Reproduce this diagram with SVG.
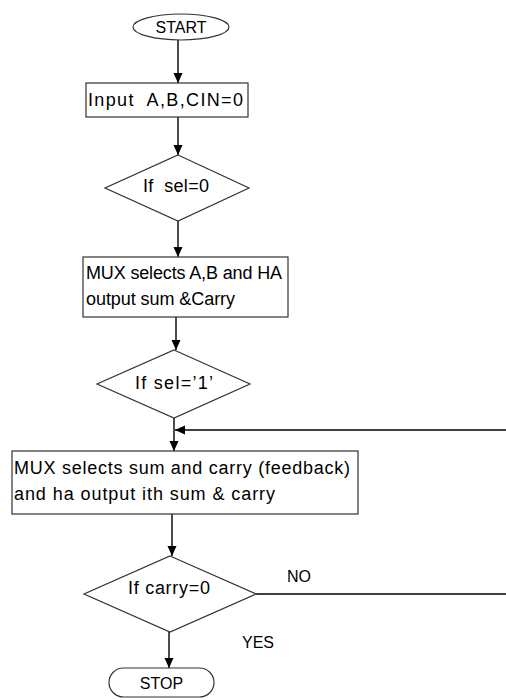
<svg xmlns="http://www.w3.org/2000/svg" width="506" height="700" viewBox="0 0 506 700">
<defs>
<marker id="ah" markerWidth="10" markerHeight="10" refX="10" refY="5" orient="auto" markerUnits="userSpaceOnUse"><path d="M0,0.5 L10,5 L0,9.5 z" fill="#000"/></marker>
</defs>
<style>
.s{fill:#fff;stroke:#333;stroke-width:1.2}
.t{font-family:"Liberation Sans",Arial,sans-serif;font-size:18px;fill:#000}
.a{font-family:"Liberation Sans",Arial,sans-serif;font-size:16px;fill:#000}
.c{stroke:#000;stroke-width:1.4;fill:none}
</style>
<rect width="506" height="700" fill="#fff"/>
<g id="connectors">
<line class="c" x1="178" y1="40" x2="178" y2="83" marker-end="url(#ah)"/>
<line class="c" x1="178" y1="117" x2="178" y2="155" marker-end="url(#ah)"/>
<line class="c" x1="178" y1="221" x2="178" y2="257" marker-end="url(#ah)"/>
<line class="c" x1="176" y1="317" x2="176" y2="350" marker-end="url(#ah)"/>
<line class="c" x1="174" y1="418" x2="174" y2="451" marker-end="url(#ah)"/>
<line class="c" x1="506" y1="430" x2="175" y2="430" marker-end="url(#ah)"/>
<line class="c" x1="172" y1="514" x2="172" y2="556" marker-end="url(#ah)"/>
<line class="c" x1="256" y1="594" x2="506" y2="594"/>
<line class="c" x1="169" y1="632" x2="169" y2="668" marker-end="url(#ah)"/>
<text class="a" x="287" y="582">NO</text>
<text class="a" x="242" y="648">YES</text>
</g>
<g id="start">
<ellipse class="s" cx="181" cy="27" rx="48" ry="13"/>
<text class="a" x="181" y="33" text-anchor="middle">START</text>
</g>
<g id="input">
<rect class="s" x="86" y="83" width="162" height="34"/>
<text class="t" x="88" y="106" textLength="155" xml:space="preserve">Input  A,B,CIN=0</text>
</g>
<g id="sel0">
<polygon class="s" points="178,155 249,188 178,221 105,188"/>
<text class="t" x="143" y="192" textLength="66" xml:space="preserve">If  sel=0</text>
</g>
<g id="mux1">
<rect class="s" x="83" y="257" width="205" height="60"/>
<text class="t" x="86" y="279" textLength="196">MUX selects A,B and HA</text>
<text class="t" x="86" y="305" textLength="149">output sum &amp;Carry</text>
</g>
<g id="sel1">
<polygon class="s" points="174,350 250,384 174,418 97,384"/>
<text class="t" x="135" y="389" textLength="78">If sel=’1’</text>
</g>
<g id="mux2">
<rect class="s" x="12" y="451" width="346" height="63"/>
<text class="t" x="14" y="474" textLength="336">MUX selects sum and carry (feedback)</text>
<text class="t" x="14" y="500" textLength="261">and ha output ith sum &amp; carry</text>
</g>
<g id="carry">
<polygon class="s" points="170,556 256,594 170,632 84,594"/>
<text class="t" x="128" y="594" textLength="82">If carry=0</text>
</g>
<g id="stop">
<rect class="s" x="109" y="668" width="105" height="29" rx="14.5"/>
<text class="a" x="161.5" y="689" text-anchor="middle">STOP</text>
</g>
</svg>
